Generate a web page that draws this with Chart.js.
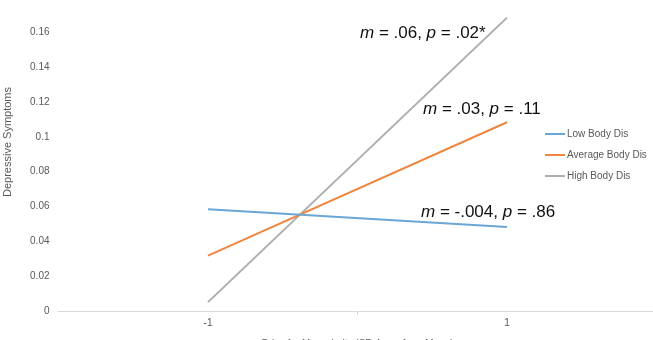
<!DOCTYPE html>
<html>
<head>
<meta charset="utf-8">
<script src="https://cdn.jsdelivr.net/npm/chart.js@4/dist/chart.umd.min.js"></script>
<style>
html,body{margin:0;padding:0;overflow:hidden;background:#fff;}
#wrap{position:absolute;left:0;top:0;width:660px;height:350px;}
</style>
</head>
<body>
<div id="wrap"><canvas id="c" width="660" height="350"></canvas></div>
<script>
// ---- data ----
const categories = [-1, 1];
const seriesNames = ['Low Body Dis', 'Average Body Dis', 'High Body Dis'];
const lowBody = [0.0584, 0.0482];
const avgBody = [0.0318, 0.1084];
const highBody = [0.0051, 0.1685];
const yTicks = [0, 0.02, 0.04, 0.06, 0.08, 0.1, 0.12, 0.14, 0.16];
const xTickLabels = ['-1', '1'];
const annotationTexts = [
  ['m', ' = .06, ', 'p', ' = .02*'],
  ['m', ' = .03, ', 'p', ' = .11'],
  ['m', ' = -.004, ', 'p', ' = .86']
];
const yTitle = 'Depressive Symptoms';
const xTitle = 'Drive for Muscularity (SD Away from Mean)';

const colors = ['#6AA6D6', '#EE8640', '#ADADAD'];
const FONT = "'Liberation Sans', Arial, sans-serif";
const TXT = '#595959';

function pts(arr){ return categories.map((c,i)=>({x:c, y:arr[i]})); }

const overlay = {
  id: 'overlay',
  afterDraw(chart){
    const ctx = chart.ctx;
    ctx.save();
    // y axis title
    ctx.fillStyle = TXT;
    ctx.font = '11px ' + FONT;
    ctx.textAlign = 'center';
    ctx.textBaseline = 'middle';
    ctx.translate(8, 142);
    ctx.rotate(-Math.PI/2);
    ctx.fillText(yTitle, 0, 0);
    ctx.restore();

    // legend
    ctx.save();
    const legY = [134, 155, 176];
    ctx.font = '10px ' + FONT;
    ctx.textBaseline = 'middle';
    ctx.textAlign = 'left';
    chart.data.datasets.forEach((ds, i) => {
      ctx.strokeStyle = ds.borderColor;
      ctx.lineWidth = 2;
      ctx.beginPath();
      ctx.moveTo(545, legY[i]);
      ctx.lineTo(565, legY[i]);
      ctx.stroke();
      ctx.fillStyle = TXT;
      ctx.fillText(ds.label, 567, legY[i]);
    });
    ctx.restore();

    // annotations
    ctx.save();
    const annPos = [[360, 33], [423, 109], [421, 212]];
    ctx.fillStyle = '#111';
    ctx.textBaseline = 'middle';
    ctx.textAlign = 'left';
    annotationTexts.forEach((parts, i) => {
      let x = annPos[i][0];
      const y = annPos[i][1];
      parts.forEach((p, j) => {
        ctx.font = (j % 2 === 0 ? 'italic ' : '') + '17px ' + FONT;
        ctx.fillText(p, x, y);
        x += ctx.measureText(p).width;
      });
    });
    ctx.restore();
  }
};

new Chart(document.getElementById('c'), {
  type: 'line',
  data: {
    datasets: [
      {label: seriesNames[0], data: pts(lowBody), borderColor: colors[0]},
      {label: seriesNames[1], data: pts(avgBody), borderColor: colors[1]},
      {label: seriesNames[2], data: pts(highBody), borderColor: colors[2]}
    ].map(d => Object.assign(d, {borderWidth: 2, pointRadius: 0, fill: false, tension: 0}))
  },
  options: {
    responsive: false,
    animation: false,
    layout: {padding: {left: 0, right: 3.5, top: 11.4, bottom: 0}},
    plugins: {legend: {display: false}, tooltip: {enabled: false}},
    scales: {
      x: {
        type: 'linear',
        min: -2, max: 2,
        afterBuildTicks(s){ s.ticks = [{value: categories[0]}, {value: 0}, {value: categories[1]}]; },
        afterFit(s){ s.height = 39; },
        grid: {
          drawOnChartArea: false,
          drawTicks: true,
          tickLength: 4,
          color: c => (c.tick && c.tick.value === 0) ? '#d9d9d9' : 'rgba(0,0,0,0)'
        },
        border: {display: true, color: '#d9d9d9', width: 1},
        ticks: {
          padding: 2,
          maxRotation: 0,
          autoSkip: false,
          color: TXT,
          font: {family: FONT, size: 10},
          callback: v => { const i = categories.indexOf(v); return i >= 0 ? xTickLabels[i] : ''; }
        },
        title: {display: true, text: xTitle, color: TXT, font: {family: FONT, size: 10}, padding: {top: 0, bottom: 0}}
      },
      y: {
        min: 0, max: 0.17,
        afterBuildTicks(s){ s.ticks = yTicks.map(v => ({value: v})); },
        afterFit(s){ s.width = 58.5; },
        grid: {display: false, drawTicks: false},
        border: {display: false},
        ticks: {
          padding: 9,
          color: TXT,
          font: {family: FONT, size: 10},
          callback: v => String(Math.round(v * 100) / 100)
        }
      }
    }
  },
  plugins: [overlay]
});
</script>
</body>
</html>
